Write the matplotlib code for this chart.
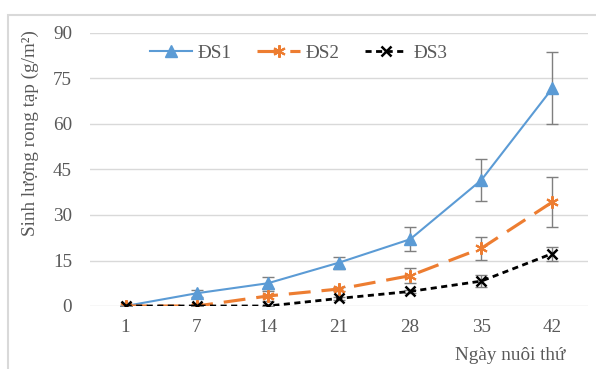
import matplotlib
matplotlib.use("Agg")
import matplotlib.pyplot as plt
from matplotlib.patches import Rectangle
import numpy as np

days = ["1", "7", "14", "21", "28", "35", "42"]
ds1 = [0, 4.2, 7.5, 14.3, 22.0, 41.5, 71.8]
ds1_err = [0, 1.2, 2.0, 2.0, 4.0, 6.9, 11.8]
ds2 = [0, 0, 3.3, 5.6, 10.0, 19.0, 34.3]
ds2_err = [0, 0, 1.5, 0.7, 2.5, 3.7, 8.3]
ds3 = [0, 0, 0, 2.5, 4.8, 8.2, 17.3]
ds3_err = [0, 0, 0, 0.5, 0.6, 1.9, 2.3]
yticks = [0, 15, 30, 45, 60, 75, 90]

W, H = 596, 369
fig = plt.figure(figsize=(W / 100, H / 100), dpi=100)
serif = ["Liberation Serif", "DejaVu Serif"]
tcol = "#595959"
fs = 13.8

# chart border
fig.patches.append(Rectangle((8 / W, -0.1), 1.2, (H - 15) / H + 0.1, transform=fig.transFigure,
                             fill=False, edgecolor="#d9d9d9", lw=1.5))

ax = fig.add_axes([90 / W, (H - 306) / H, (588 - 90) / W, (306 - 33) / H])
x = np.arange(len(days))

ax.set_ylim(0, 90)
ax.set_xlim(-0.5, len(days) - 0.5)
ax.set_yticks(yticks)
ax.set_xticks(x)
ax.set_xticklabels(days)
ax.yaxis.grid(True, color="#d9d9d9", lw=1)
ax.set_axisbelow(True)
for s in ax.spines.values():
    s.set_visible(False)
ax.tick_params(length=0, labelsize=fs, labelcolor=tcol)
ax.tick_params(axis="y", pad=13)
ax.tick_params(axis="x", pad=9)
for lab in ax.get_xticklabels() + ax.get_yticklabels():
    lab.set_family(serif)

ecol = "#7f7f7f"
ax.errorbar(x, ds1, yerr=ds1_err, fmt="none", ecolor=ecol, elinewidth=1, capsize=4, capthick=1, zorder=2)
ax.errorbar(x, ds2, yerr=ds2_err, fmt="none", ecolor=ecol, elinewidth=1, capsize=4, capthick=1, zorder=2)
ax.errorbar(x, ds3, yerr=ds3_err, fmt="none", ecolor=ecol, elinewidth=1, capsize=4, capthick=1, zorder=2)

l1, = ax.plot(x, ds1, color="#5B9BD5", lw=1.5, marker="^", ms=8.5, mec="#5B9BD5", mfc="#5B9BD5",
              label="ĐS1", zorder=3)
l2, = ax.plot(x, ds2, color="#ED7D31", lw=2.25, dashes=(7, 3.5), marker=(6, 2, 0), ms=9, mew=1.5,
              mec="#ED7D31", label="ĐS2", zorder=4)
l3, = ax.plot(x, ds3, color="black", lw=2, dashes=(2.2, 1.6), marker="x", ms=7, mew=1.8,
              mec="black", label="ĐS3", zorder=5)

leg = ax.legend(handles=[l1, l2, l3], ncol=3, frameon=False, loc="center left",
                bbox_to_anchor=(52 / (588 - 90), (306 - 53) / (306 - 33)),
                prop={"family": serif, "size": fs}, handlelength=2.2, columnspacing=1.35,
                handletextpad=0.3, borderaxespad=0)
for t in leg.get_texts():
    t.set_color(tcol)

fig.text(30 / W, 1 - 133 / H, "Sinh lượng rong tạp (g/m²)", rotation=90, ha="center", va="center",
         family=serif, size=fs, color=tcol)
fig.text(510 / W, 1 - 355 / H, "Ngày nuôi thứ", ha="center", va="center",
         family=serif, size=fs, color=tcol)

fig.savefig("out.png", dpi=100)
